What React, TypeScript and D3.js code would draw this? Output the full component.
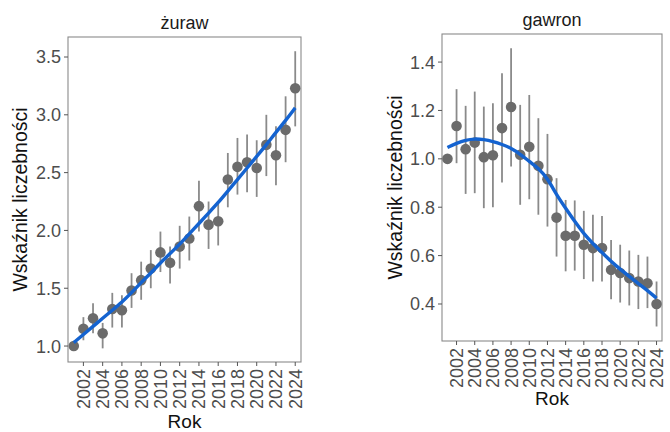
import React from 'react';
import * as d3 from 'd3';

const years = d3.range(2001, 2025);
const yearTicks = d3.range(2002, 2025, 2);

// żuraw
const zurawValue = [1.0, 1.15, 1.24, 1.11, 1.32, 1.31, 1.48, 1.57, 1.67, 1.81, 1.72, 1.86, 1.93, 2.21, 2.05, 2.08, 2.44, 2.55, 2.59, 2.54, 2.74, 2.65, 2.87, 3.23];
const zurawLow = [1.0, 1.05, 1.11, 0.98, 1.16, 1.16, 1.33, 1.4, 1.5, 1.64, 1.54, 1.67, 1.74, 1.99, 1.84, 1.87, 2.2, 2.31, 2.33, 2.29, 2.47, 2.39, 2.59, 2.9];
const zurawHigh = [1.0, 1.25, 1.37, 1.2, 1.46, 1.44, 1.63, 1.73, 1.83, 1.99, 1.86, 2.04, 2.12, 2.43, 2.25, 2.25, 2.67, 2.8, 2.83, 2.78, 3.0, 2.9, 3.16, 3.55];
const zurawTrend = [1.03, 1.1, 1.17, 1.24, 1.31, 1.38, 1.46, 1.55, 1.63, 1.72, 1.8, 1.88, 1.97, 2.06, 2.15, 2.24, 2.34, 2.44, 2.54, 2.64, 2.74, 2.85, 2.95, 3.06];
const zurawTicks = [1.0, 1.5, 2.0, 2.5, 3.0, 3.5];

// gawron
const gawronValue = [1.0, 1.136, 1.04, 1.067, 1.007, 1.015, 1.127, 1.214, 1.017, 1.05, 0.971, 0.916, 0.757, 0.682, 0.682, 0.645, 0.631, 0.631, 0.541, 0.528, 0.507, 0.493, 0.486, 0.4];
const gawronLow = [1.0, 0.982, 0.855, 0.858, 0.796, 0.8, 0.902, 0.968, 0.81, 0.833, 0.769, 0.72, 0.596, 0.535, 0.538, 0.503, 0.493, 0.493, 0.42, 0.406, 0.394, 0.379, 0.383, 0.307];
const gawronHigh = [1.0, 1.288, 1.219, 1.278, 1.216, 1.23, 1.354, 1.457, 1.223, 1.264, 1.168, 1.103, 0.92, 0.83, 0.828, 0.785, 0.769, 0.764, 0.665, 0.645, 0.621, 0.603, 0.596, 0.493];
const gawronTrend = [1.047, 1.065, 1.078, 1.083, 1.08, 1.072, 1.06, 1.044, 1.02, 0.989, 0.962, 0.92, 0.851, 0.796, 0.741, 0.69, 0.649, 0.613, 0.576, 0.544, 0.514, 0.484, 0.456, 0.424];
const gawronTicks = [0.4, 0.6, 0.8, 1.0, 1.2, 1.4];

const font = '"Liberation Sans", Arial, sans-serif';
const tickColor = '#4d4d4d';
const frameColor = '#8a8a8a';

interface PanelProps {
  title: string;
  value: number[];
  low: number[];
  high: number[];
  trend: number[];
  yTicks: number[];
  yDomain: [number, number];
  box: { left: number; right: number; top: number; bottom: number };
  titleY: number;
  yTitleX: number;
  xTitleY: number;
  fmt: (v: number) => string;
}

const Panel: React.FC<PanelProps> = ({ title, value, low, high, trend, yTicks, yDomain, box, titleY, yTitleX, xTitleY, fmt }) => {
  const x = d3.scaleLinear().domain([2000.4, 2024.6]).range([box.left, box.right]);
  const y = d3.scaleLinear().domain(yDomain).range([box.bottom, box.top]);
  const line = d3.line<number>()
    .x((_, i) => x(years[i]))
    .y(d => y(d))
    .curve(d3.curveBasis);
  const cx = (box.left + box.right) / 2;
  const cy = (box.top + box.bottom) / 2;

  return (
    <g fontFamily={font}>
      <text x={cx} y={titleY} textAnchor="middle" fontSize={18} fill="#1a1a1a">{title}</text>
      <rect x={box.left} y={box.top} width={box.right - box.left} height={box.bottom - box.top} fill="none" stroke={frameColor} strokeWidth={1.1} />

      {yTicks.map(t => (
        <g key={t}>
          <line x1={box.left - 4} x2={box.left} y1={y(t)} y2={y(t)} stroke="#555" strokeWidth={1} />
          <text x={box.left - 7} y={y(t)} dy="0.36em" textAnchor="end" fontSize={18} fill={tickColor}>{fmt(t)}</text>
        </g>
      ))}

      {yearTicks.map(t => (
        <g key={t}>
          <line x1={x(t)} x2={x(t)} y1={box.bottom} y2={box.bottom + 4} stroke="#555" strokeWidth={1} />
          <text transform={`translate(${x(t)},${box.bottom + 7}) rotate(-90)`} dy="0.36em" textAnchor="end" fontSize={18} fill={tickColor}>{t}</text>
        </g>
      ))}

      <text transform={`translate(${yTitleX},${cy}) rotate(-90)`} textAnchor="middle" fontSize={19.5} fill="#111">Wskaźnik liczebności</text>
      <text x={cx} y={xTitleY} textAnchor="middle" fontSize={19} fill="#111">Rok</text>

      {years.map((yr, i) => (
        low[i] !== high[i] ? (
          <line key={`e${yr}`} x1={x(yr)} x2={x(yr)} y1={y(low[i])} y2={y(high[i])} stroke="#8a8a8a" strokeWidth={1.8} />
        ) : null
      ))}
      {years.map((yr, i) => (
        <circle key={`p${yr}`} cx={x(yr)} cy={y(value[i])} r={5.3} fill="#6b6b6b" />
      ))}
      <path d={line(trend) ?? ''} fill="none" stroke="#1463d0" strokeWidth={3.4} strokeLinecap="butt" />
    </g>
  );
};

export default function App() {
  return (
    <div style={{ position: 'absolute', left: 0, top: 0 }}>
      <svg width={670} height={432} style={{ display: 'block', background: '#fff' }}>
        <Panel
          title="żuraw"
          value={zurawValue}
          low={zurawLow}
          high={zurawHigh}
          trend={zurawTrend}
          yTicks={zurawTicks}
          yDomain={[0.862, 3.673]}
          box={{ left: 68, right: 301, top: 37, bottom: 362 }}
          titleY={29}
          yTitleX={27}
          xTitleY={428}
          fmt={d3.format('.1f')}
        />
        <Panel
          title="gawron"
          value={gawronValue}
          low={gawronLow}
          high={gawronHigh}
          trend={gawronTrend}
          yTicks={gawronTicks}
          yDomain={[0.247, 1.516]}
          box={{ left: 442, right: 662, top: 34, bottom: 341 }}
          titleY={26}
          yTitleX={402}
          xTitleY={405}
          fmt={d3.format('.1f')}
        />
      </svg>
    </div>
  );
}
